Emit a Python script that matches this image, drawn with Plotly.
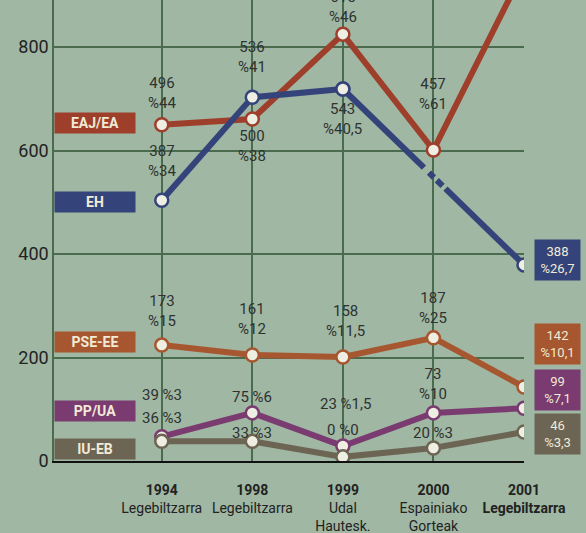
import plotly.graph_objects as go

# x categories (election + type)
years = ["1994", "1998", "1999", "2000", "2001"]
kinds = ["Legebiltzarra", "Legebiltzarra", "Udal<br>Hautesk.", "Espainiako<br>Gorteak", "Legebiltzarra"]

# plotted positions (y axis scale)
eaj = [650, 661, 825, 601, 950]
eh = [504, 703, 719, None, 379]
pse = [224, 205, 201, 238, 143]
pp = [47, 93, 29, 93, 102]
iu = [38, 38, 8, 25, 56]

# point labels as printed (None = no label)
eaj_lbl = ["496<br>%44", "500<br>%38", "615<br>%46", "457<br>%61", None]
eh_lbl = ["387<br>%34", "536<br>%41", "543<br>%40,5", None, None]
pse_lbl = ["173<br>%15", "161<br>%12", "158<br>%11,5", "187<br>%25", None]
pp_lbl = ["39 %3", "75 %6", "23 %1,5", "73<br>%10", None]
iu_lbl = ["36 %3", "33 %3", "0 %0", "20 %3", None]

# final result boxes at 2001
eh_last = "388<br>%26,7"
pse_last = "142<br>%10,1"
pp_last = "99<br>%7,1"
iu_last = "46<br>%3,3"

BG = "#a0b7a3"
GRID = "#4b6b4f"
TXT = "#2e3230"
BOXTXT = "#f1ead6"
FONT = "Roboto, sans-serif"

colors = {
    "EAJ/EA": "#9e3f2c",
    "EH": "#34447a",
    "PSE-EE": "#a6572f",
    "PP/UA": "#7a3b70",
    "IU-EB": "#6d6553",
}

xs = list(range(len(years)))
fig = go.Figure()


def marker(c):
    return dict(size=13, color="#efeee2", line=dict(color=c, width=2.5))


# EAJ/EA
fig.add_trace(go.Scatter(x=xs, y=eaj, mode="lines+markers",
                         line=dict(color=colors["EAJ/EA"], width=6),
                         marker=marker(colors["EAJ/EA"])))

# EH: solid up to 1999, broken line 1999 -> 2001 (no 2000 run)
fig.add_trace(go.Scatter(x=xs[:3], y=eh[:3], mode="lines+markers",
                         line=dict(color=colors["EH"], width=6),
                         marker=marker(colors["EH"])))
fig.add_trace(go.Scatter(x=[xs[2], xs[4]], y=[eh[2], eh[4]], mode="lines+markers",
                         line=dict(color=colors["EH"], width=6,
                                   dash="113px,7px,7px,4px,8px,4px,400px"),
                         marker=marker(colors["EH"])))

for name, vals in [("PSE-EE", pse), ("PP/UA", pp), ("IU-EB", iu)]:
    fig.add_trace(go.Scatter(x=xs, y=vals, mode="lines+markers",
                             line=dict(color=colors[name], width=6),
                             marker=marker(colors[name])))

# point labels: (values, labels, yshift per point)
label_sets = [
    (eaj, eaj_lbl, [32, -27, 27, 56, 0]),
    (eh, eh_lbl, [39, 40, -30, 0, 0]),
    (pse, pse_lbl, [34, 36, 36, 30, 0]),
    (pp, pp_lbl, [42, 16, 42, 29, 0]),
    (iu, iu_lbl, [23, 8, 27, 15, 0]),
]
for vals, lbls, shifts in label_sets:
    for i, (v, t) in enumerate(zip(vals, lbls)):
        if t is None:
            continue
        fig.add_annotation(x=xs[i], y=v, text=t, showarrow=False, yshift=shifts[i],
                           xshift=3 if i == 2 and "1,5" in t else 0,
                           font=dict(family=FONT, size=15, color=TXT))

# party name boxes on the left
left_boxes = [("EAJ/EA", eaj[0], 2), ("EH", eh[0], -2), ("PSE-EE", pse[0], 3),
              ("PP/UA", pp[0], 26), ("IU-EB", iu[0], -8)]
for name, v, sh in left_boxes:
    fig.add_annotation(x=-1.19, y=v, xanchor="left", yshift=sh, text="<b>%s</b>" % name,
                       showarrow=False, width=76, height=16, bgcolor=colors[name],
                       borderpad=2, font=dict(family=FONT, size=14, color=BOXTXT))

# 2001 result boxes on the right
right_boxes = [(eh_last, eh[4], "EH", 5), (pse_last, pse[4], "PSE-EE", 43),
               (pp_last, pp[4], "PP/UA", 18), (iu_last, iu[4], "IU-EB", -2)]
for t, v, name, sh in right_boxes:
    fig.add_annotation(x=xs[4], y=v, xshift=33, yshift=sh, text=t, showarrow=False,
                       width=41, height=36, bgcolor=colors[name], borderpad=2,
                       font=dict(family=FONT, size=13, color=BOXTXT))

ticktext = []
for i, (y, k) in enumerate(zip(years, kinds)):
    if i == 4:
        ticktext.append("<b>%s</b><br><b>%s</b>" % (y, k))
    else:
        ticktext.append("<b>%s</b><br>%s" % (y, k))

fig.update_layout(
    width=586, height=533,
    margin=dict(l=54, r=62, t=0, b=72),
    paper_bgcolor=BG, plot_bgcolor=BG,
    showlegend=False,
    font=dict(family=FONT, color=TXT),
    xaxis=dict(range=[-1.19, 4], tickvals=xs, ticktext=ticktext,
               showgrid=True, gridcolor=GRID, gridwidth=1.5,
               showline=True, linecolor="#111", linewidth=2,
               zeroline=False, ticks="", ticklabelstandoff=15, automargin=False,
               tickfont=dict(size=14, color="#222")),
    yaxis=dict(range=[0, 891], tickvals=[0, 200, 400, 600, 800],
               showgrid=True, gridcolor=GRID, gridwidth=1.5,
               showline=True, linecolor=GRID, linewidth=1.5,
               zeroline=False, ticks="", automargin=False,
               tickfont=dict(size=18, color="#222")),
)

fig.write_html("out.html", config={"displayModeBar": False},
               post_script="document.body.style.margin='0';"
                           "document.body.style.background='%s';" % BG)
